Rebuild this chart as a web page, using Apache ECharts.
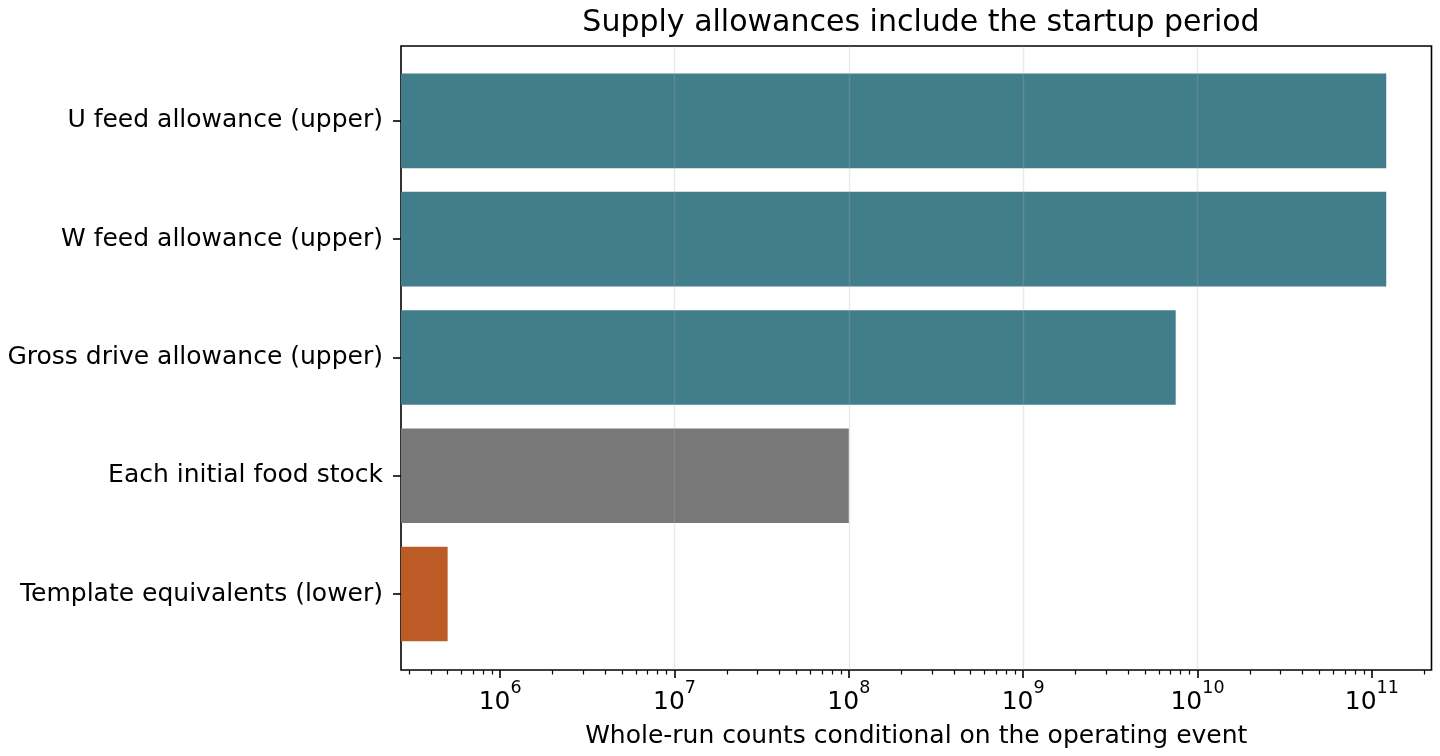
<!DOCTYPE html>
<html lang="en">
  <head>
    <meta charset="UTF-8" />
    <title>Supply allowances</title>
    <script src="https://cdn.jsdelivr.net/npm/echarts@6.0.0/dist/echarts.min.js"></script>
    <style>
      html, body { margin: 0; padding: 0; background: #fff; }
    </style>
  </head>

  <body>
    <div id="main" style="width: 1440px; height: 756px"></div>

    <script type="text/javascript">
      // chart data
      const categories = [
        "U feed allowance (upper)",
        "W feed allowance (upper)",
        "Gross drive allowance (upper)",
        "Each initial food stock",
        "Template equivalents (lower)",
      ];
      const counts = [1.21e11, 1.21e11, 7.5e9, 1.0e8, 5.0e5];
      const barColors = ["#427d8b", "#427d8b", "#427d8b", "#787878", "#bc5b25"];
      const majorTicks = [1e6, 1e7, 1e8, 1e9, 1e10, 1e11];
      const xMin = 2.7e5;
      const xMax = 2.2e11;

      // minor ticks at 2..9 x 10^n inside the range
      const minorTicks = [];
      for (let n = 5; n <= 11; n++) {
        for (let k = 2; k <= 9; k++) {
          const v = k * Math.pow(10, n);
          if (v > xMin && v < xMax) minorTicks.push(v);
        }
      }

      const font = "DejaVu Sans";
      let myChart = echarts.init(document.getElementById("main"));

      let options = {
        animation: false,
        backgroundColor: "#ffffff",
        title: {
          text: "Supply allowances include the startup period",
          left: 916,
          textAlign: "center",
          top: 3,
          textStyle: { fontFamily: font, fontSize: 30, fontWeight: "normal", color: "#000" },
        },
        grid: [
          // where the bars live (band spacing like matplotlib's margins)
          { left: 401, right: 8.5, top: 61.7, bottom: 102.8 },
          // the frame / visible x axis
          {
            left: 401, right: 8.5, top: 46, bottom: 86,
            show: true, borderColor: "#000", borderWidth: 1.6, backgroundColor: "transparent",
          },
        ],
        xAxis: [
          {
            gridIndex: 0, type: "log", logBase: 10, min: xMin, max: xMax,
            axisLine: { show: false }, axisTick: { show: false },
            axisLabel: { show: false }, splitLine: { show: false },
          },
          {
            gridIndex: 1, type: "log", logBase: 10, min: xMin, max: xMax, z: 5,
            position: "bottom",
            name: "Whole-run counts conditional on the operating event",
            nameLocation: "middle",
            nameGap: 54,
            nameTextStyle: { fontFamily: font, fontSize: 25, color: "#000" },
            axisLine: { show: false },
            axisTick: {
              show: true, length: 8, customValues: majorTicks,
              lineStyle: { color: "#000", width: 1.6 },
            },
            axisLabel: {
              customValues: majorTicks,
              margin: 9,
              formatter: (v) => "{b|10}{s|" + Math.round(Math.log10(v)) + "}",
              rich: {
                b: { fontFamily: font, fontSize: 25, color: "#000", lineHeight: 36, verticalAlign: "bottom" },
                s: { fontFamily: font, fontSize: 17.5, color: "#000", lineHeight: 36, verticalAlign: "top" },
              },
            },
            splitLine: {
              show: true, showMinLine: false, showMaxLine: false,
              lineStyle: { color: "rgba(176,176,176,0.28)", width: 1.4 },
            },
          },
          {
            gridIndex: 1, type: "log", logBase: 10, min: xMin, max: xMax, z: 5,
            position: "bottom",
            axisLine: { show: false },
            axisTick: {
              show: true, length: 4.5, customValues: minorTicks,
              lineStyle: { color: "#000", width: 1.2 },
            },
            axisLabel: { show: false },
            splitLine: { show: false },
          },
        ],
        yAxis: [
          {
            gridIndex: 0, type: "category", data: categories, inverse: true,
            axisLine: { show: false },
            axisTick: { show: true, alignWithLabel: true, length: 8, lineStyle: { color: "#000", width: 1.6 } },
            axisLabel: { margin: 18, fontFamily: font, fontSize: 25, color: "#000", padding: [3, 0, 0, 0] },
          },
          {
            gridIndex: 1, type: "value", min: 0, max: 1,
            axisLine: { show: false }, axisTick: { show: false },
            axisLabel: { show: false }, splitLine: { show: false },
          },
        ],
        series: [
          {
            type: "bar",
            xAxisIndex: 0,
            yAxisIndex: 0,
            barWidth: "80%",
            clip: true,
            data: counts.map((c, i) => ({ value: c, itemStyle: { color: barColors[i] } })),
          },
        ],
      };

      myChart.setOption(options);
    </script>
  </body>
</html>
